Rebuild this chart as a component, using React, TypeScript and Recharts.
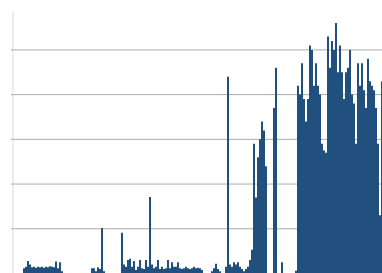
import { BarChart, Bar, XAxis, YAxis, CartesianGrid } from 'recharts'

// bar heights, read left to right (one bar per ~2px column)
const quietStart = [
  0, 0, 0, 0, 0, 0.12, 0.15, 0.28, 0.2, 0.14, 0.15, 0.13, 0.15, 0.14, 0.15, 0.13, 0.15, 0.14,
  0.16, 0.15, 0.14, 0.27, 0.12, 0.25, 0.05,
]
const emptyStretch = [0, 0, 0, 0, 0, 0, 0, 0, 0, 0, 0, 0, 0, 0]
const spikyMiddle = [
  0.12, 0.12, 0.05, 0.14, 0.1, 1.02, 0.05, 0, 0, 0, 0, 0, 0, 0, 0,
  0.91, 0.2, 0.15, 0.3, 0.33, 0.15, 0.28, 0.08, 0.15, 0.3, 0.12, 0.1, 0.3, 0.15,
  1.71, 0.2, 0.12, 0.15, 0.3, 0.1, 0.15, 0.1, 0.12, 0.3, 0.12, 0.25, 0.15, 0.15, 0.25,
  0.12, 0.1, 0.12, 0.15, 0.12, 0.1, 0.12, 0.15, 0.12, 0.13, 0.12, 0.08, 0, 0, 0, 0,
  0.05, 0.12, 0.22, 0.1, 0.05, 0, 0, 0.15,
  4.4, 0.2, 0.15, 0.25, 0.2, 0.25, 0.15, 0.1, 0.05, 0.1, 0.15,
]
const rampUp = [
  0.3, 0.53, 2.9, 1.7, 2.6, 3.0, 3.4, 3.2, 2.4, 0, 0, 0, 3.7, 4.6, 0, 0, 0.25, 0, 0, 0, 0, 0,
  0, 0.06,
]
const denseEnd = [
  4.2, 4.0, 4.7, 3.9, 3.4, 3.9, 5.1, 5.0, 4.2, 4.7, 4.2, 4.0, 2.9, 2.75, 2.7, 5.3, 4.6, 5.2,
  5.0, 5.6, 4.5, 5.1, 4.5, 3.9, 4.5, 4.6, 5.0, 4.0, 3.8, 2.9, 4.7, 4.2, 4.7, 4.1, 3.7, 4.8,
  4.3, 4.2, 4.1, 3.7, 2.9, 1.3, 4.3,
]
const yTicks = [0, 1, 2, 3, 4, 5]

const values = [...quietStart, ...emptyStretch, ...spikyMiddle, ...rampUp, ...denseEnd]
const chartData = values.map((v, i) => ({ idx: i + 1, value: v }))

// no tick labels in the original, just the short tick marks
const NoLabel = () => <g />

export default function App() {
  return (
    <div style={{ position: 'absolute', left: 0, top: 0, width: 382, height: 273, overflow: 'hidden', background: '#fff' }}>
      <BarChart
        width={383}
        height={280}
        data={chartData}
        margin={{ top: 11, right: 0, left: 0, bottom: 6.5 }}
        barCategoryGap={0}
        barGap={0}
      >
        <CartesianGrid vertical={false} horizontal stroke="#ababab" syncWithTicks />
        <XAxis
          dataKey="idx"
          height={0}
          tick={NoLabel}
          tickLine={false}
          axisLine={{ stroke: '#7d98b8' }}
        />
        <YAxis
          width={13}
          domain={[0, 5.87]}
          ticks={yTicks}
          tick={NoLabel}
          tickSize={2}
          tickLine={{ stroke: '#ababab' }}
          axisLine={{ stroke: '#d9d9d9' }}
          allowDataOverflow
        />
        <Bar dataKey="value" fill="#22507e" isAnimationActive={false} />
      </BarChart>
    </div>
  )
}
